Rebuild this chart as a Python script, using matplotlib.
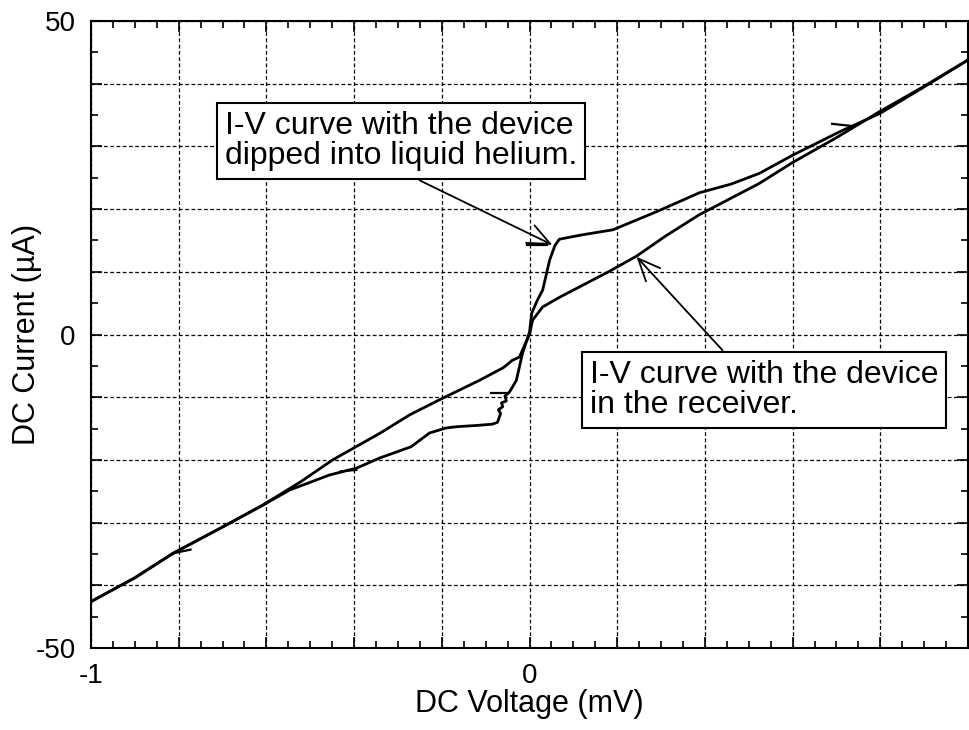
import matplotlib
matplotlib.use("Agg")
import matplotlib.pyplot as plt
import numpy as np

plt.rcParams['font.family'] = ['Liberation Sans', 'DejaVu Sans']

# I-V curve, device dipped into liquid helium (mV, uA)
v_helium = [-1.0, -0.9, -0.813, -0.7, -0.608, -0.547, -0.456, -0.394, -0.342, -0.27,
            -0.228, -0.19, -0.166, -0.12, -0.085, -0.073, -0.066, -0.071, -0.061,
            -0.064, -0.053, -0.056, -0.046, -0.04, -0.03, -0.016, 0.0, 0.005, 0.018,
            0.03, 0.046, 0.058, 0.068, 0.12, 0.19, 0.29, 0.387, 0.46, 0.524, 0.6,
            0.706, 0.8, 0.9, 1.0]
i_helium = [-42.6, -38.8, -34.9, -30.7, -27.2, -24.8, -22.4, -21.3, -19.7, -17.9,
            -15.7, -14.9, -14.7, -14.5, -14.3, -14.0, -12.6, -12.0, -11.5, -10.9,
            -10.6, -9.8, -9.2, -8.5, -7.3, -3.0, 0.4, 3.4, 5.5, 7.1, 11.9, 14.2,
            15.2, 15.9, 16.7, 19.6, 22.6, 24.0, 25.7, 28.6, 32.3, 35.3, 39.5, 43.8]

# I-V curve, device in the receiver
v_receiver = [-1.0, -0.9, -0.813, -0.7, -0.608, -0.52, -0.449, -0.34, -0.273, -0.205,
              -0.114, -0.06, -0.039, -0.023, -0.01, 0.0, 0.007, 0.03, 0.07, 0.114,
              0.18, 0.244, 0.31, 0.387, 0.524, 0.599, 0.7, 0.797, 0.9, 1.0]
i_receiver = [-42.6, -38.8, -34.9, -30.7, -27.2, -23.4, -20.0, -15.7, -12.8, -10.4,
              -7.3, -5.3, -4.1, -3.6, -1.5, 0.0, 2.3, 4.4, 6.0, 7.6,
              10.0, 12.5, 15.7, 19.1, 24.1, 27.4, 31.4, 35.5, 39.6, 43.8]

# small hand-drawn direction barbs on the curves: (x, y, dx, dy)
barbs = [(0.73, 33.3, -0.04, 0.3), (-0.813, -34.9, 0.04, 0.6),
         (-0.43, -21.8, 0.035, 0.2), (-0.052, -9.3, -0.035, 0.0),
         (0.04, 14.3, -0.045, 0.0)]

label_helium = "I-V curve with the device\ndipped into liquid helium."
label_receiver = "I-V curve with the device\nin the receiver."

fig = plt.figure(figsize=(9.7, 7.3), dpi=100)
ax = fig.add_axes([0.0938, 0.1123, 0.9042, 0.8589])

ax.plot(v_helium, i_helium, color='black', lw=2.0, solid_joinstyle='round')
ax.plot(v_receiver, i_receiver, color='black', lw=2.0, solid_joinstyle='round')

for x, y, dx, dy in barbs:
    ax.plot([x, x + dx], [y, y + dy], color='black', lw=1.6)

ax.set_xlim(-1, 1)
ax.set_ylim(-50, 50)

xmaj = np.round(np.arange(-1, 1.01, 0.2), 2)
ymaj = np.arange(-50, 51, 10)
ax.set_xticks(xmaj)
ax.set_xticklabels(['-1' if v == -1 else ('0' if abs(v) < 1e-9 else '') for v in xmaj])
ax.set_yticks(ymaj)
ax.set_yticklabels(['50' if v == 50 else ('0' if v == 0 else ('-50' if v == -50 else ''))
                    for v in ymaj])
ax.set_xticks(np.arange(-1, 1.001, 0.05), minor=True)
ax.set_yticks(np.arange(-50, 51, 5), minor=True)

ax.tick_params(which='both', direction='in', top=True, right=True, width=1.2)
ax.tick_params(which='major', length=8, labelsize=20, pad=11)
ax.tick_params(which='minor', length=5)

ax.grid(True, which='major', color='black', linestyle=(0, (3, 2)), linewidth=0.9)
for s in ax.spines.values():
    s.set_linewidth(1.5)

ax.set_xlabel('DC Voltage (mV)', fontsize=22, labelpad=0)
ax.set_ylabel('DC Current (µA)', fontsize=22)
ax.yaxis.set_label_coords(-0.056, 0.5)

box = dict(boxstyle='square,pad=0.25', facecolor='white', edgecolor='black', linewidth=1.5)
ax.text(-0.695, 30.9, label_helium, fontsize=23, ha='left', va='center',
        linespacing=1.0, bbox=box, zorder=5)
ax.text(0.137, -8.85, label_receiver, fontsize=23, ha='left', va='center',
        linespacing=1.0, bbox=box, zorder=5)

arrow = dict(arrowstyle='->,head_length=0.8,head_width=0.35', color='black',
             lw=1.3, mutation_scale=20, shrinkA=0, shrinkB=0)
ax.annotate('', xy=(0.052, 14.3), xytext=(-0.251, 24.6), arrowprops=arrow, zorder=4)
ax.annotate('', xy=(0.244, 12.4), xytext=(0.44, -2.5), arrowprops=arrow, zorder=4)

fig.savefig('out.png', dpi=100)
